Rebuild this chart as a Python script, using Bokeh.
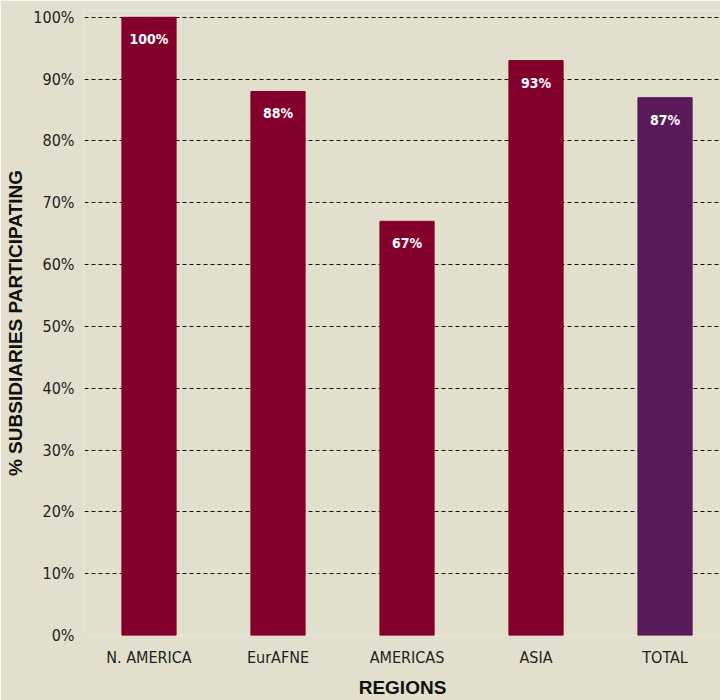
import numpy as np
from bokeh.plotting import figure
from bokeh.models import ColumnDataSource, Range1d, FixedTicker, PrintfTickFormatter
from bokeh.core.properties import value
from bokeh.embed import file_html
from bokeh.resources import INLINE

regions = ["N. AMERICA", "EurAFNE", "AMERICAS", "ASIA", "TOTAL"]
participation = [100, 88, 67, 93, 87]
labels = ["100%", "88%", "67%", "93%", "87%"]
bar_colors = ["#84002C", "#84002C", "#84002C", "#84002C", "#581A59"]
y_ticks = list(range(0, 101, 10))

xpos = np.arange(len(regions)) + 0.5
src = ColumnDataSource(dict(x=xpos, y=participation, lab=labels, color=bar_colors))

BG = "#E2E0CC"
FONT = "DejaVu Sans Condensed"

p = figure(width=720, height=700, output_backend="svg", toolbar_location=None,
           x_range=Range1d(0, 4.93), y_range=Range1d(0, 101.1),
           background_fill_color=BG, border_fill_color=BG,
           min_border_left=84, min_border_right=0, min_border_top=10, min_border_bottom=60)
p.outline_line_color = None

p.vbar(x="x", top="y", width=0.42, bottom=0, color="color", source=src)
p.text(x="x", y="y", text="lab", source=src, text_align="center", text_baseline="top",
       y_offset=14, text_color="white", text_font=value(FONT), text_font_style="bold",
       text_font_size="14px")

p.xgrid.grid_line_color = None
p.ygrid.grid_line_color = "#111111"
p.ygrid.grid_line_dash = "4 3"
p.ygrid.grid_line_width = 1.2
p.ygrid.level = "underlay"

p.yaxis.ticker = FixedTicker(ticks=y_ticks)
p.yaxis.formatter = PrintfTickFormatter(format="%d%%")
p.xaxis.ticker = FixedTicker(ticks=list(xpos))
p.xaxis.major_label_overrides = {float(x): r for x, r in zip(xpos, regions)}

for ax in (p.xaxis[0], p.yaxis[0]):
    ax.axis_line_color = None
    ax.major_tick_line_color = None
    ax.minor_tick_line_color = None
    ax.major_label_text_font = FONT
    ax.major_label_text_font_size = "16px"
    ax.major_label_text_color = "#222222"
    ax.axis_label_text_font = "Liberation Sans"
    ax.axis_label_text_font_style = "bold"
    ax.axis_label_text_font_size = "19px"
    ax.axis_label_text_color = "#111111"

p.yaxis.major_label_standoff = 4
p.xaxis.major_label_standoff = 6
p.xaxis.axis_label = "REGIONS"
p.yaxis.axis_label = "% SUBSIDIARIES PARTICIPATING"
p.xaxis.axis_label_standoff = 7
p.yaxis.axis_label_standoff = 4

open("out.html", "w").write(file_html(p, INLINE))
